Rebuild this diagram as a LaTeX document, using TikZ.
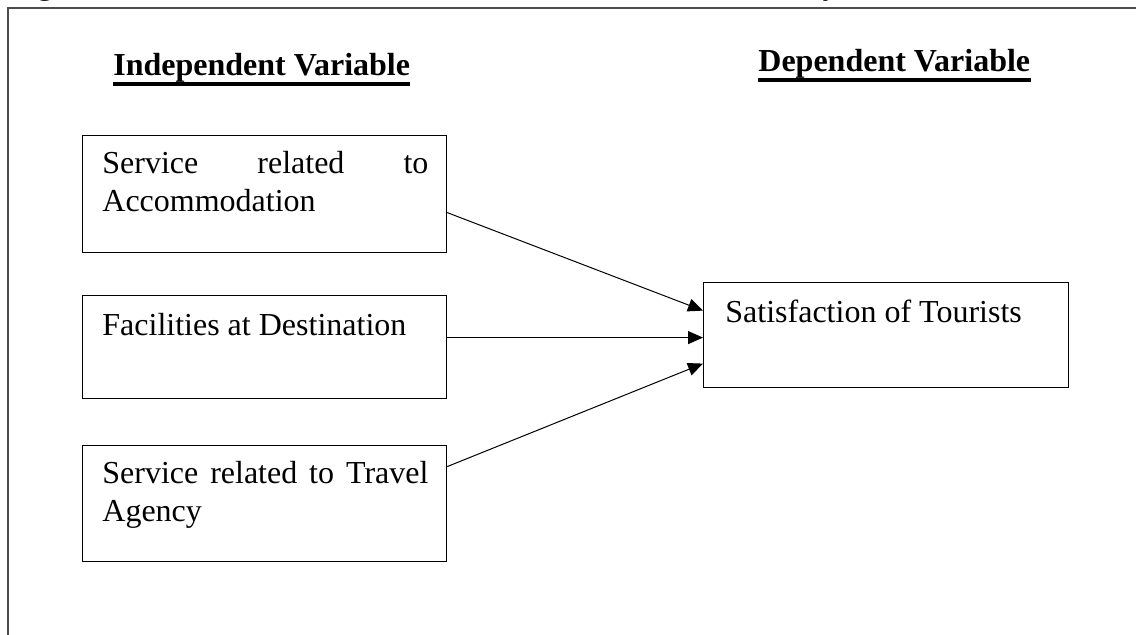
\documentclass[tikz,border=0pt]{standalone}
\usepackage{fontspec}
\setmainfont{Liberation Serif}
\usetikzlibrary{positioning,calc,arrows.meta}

\hyphenpenalty=10000
\exhyphenpenalty=10000
\tolerance=10000
\hbadness=10000

\tikzset{
  varbox/.style={rectangle, draw, line width=0.6pt, anchor=north west, inner sep=0pt},
  boxtext/.style={anchor=north west, inner sep=0pt, text width=163pt, align=justify,
    font=\fontsize{16}{19}\selectfont},
  heading/.style={anchor=base west, inner sep=0pt, font=\fontsize{16}{19}\selectfont\bfseries},
  link/.style={-{Triangle[length=7.5pt,width=6.5pt]}, line width=0.5pt}
}

\begin{document}
\begin{tikzpicture}[x=0.5pt, y=-0.5pt]
    \useasboundingbox (0,0) rectangle (1136,635);

    % line of the page above, cut off
    \node[anchor=base west, inner sep=0pt, font=\fontsize{16}{19}\selectfont] (caption) at (10,-5)
        {Figure 1 below shows the research framework used for the study};
    \draw[line width=1pt, black!70] (8,635) -- (8,8) -- (1136,8);

    % headings
    \node[heading] (indep) at (113,76) {Independent Variable};
    \node[heading] (dep) at (758,72) {Dependent Variable};
    \draw[line width=1.8pt] ($(indep.base west)+(0,8)$) -- ($(indep.base east)+(0,8)$);
    \draw[line width=1.8pt] ($(dep.base west)+(0,8)$) -- ($(dep.base east)+(0,8)$);

    % boxes
    \node[varbox, minimum width=182pt, minimum height=58.5pt] (accom) at (82,135) {};
    \node[varbox, minimum width=182pt, minimum height=51.5pt] (facil) at (82,295) {};
    \node[varbox, minimum width=182pt, minimum height=58pt] (travel) at (82,445) {};
    \node[varbox, minimum width=182.5pt, minimum height=52.5pt] (satis) at (703,282) {};

    \node[boxtext] (accomtext) at ($(accom.north west)+(20,16)$) {Service related to Accommodation};
    \node[boxtext] (faciltext) at ($(facil.north west)+(20,18)$) {Facilities at Destination};
    \node[boxtext] (traveltext) at ($(travel.north west)+(20,16)$) {Service related to Travel Agency};
    \node[boxtext] (satistext) at ($(satis.north west)+(22,18)$) {Satisfaction of Tourists};

    % links
    \draw[link] ($(accom.east)+(0,18.5)$) -- ($(satis.west)+(0,-24.5)$);
    \draw[link] ($(facil.east)+(0,-9.5)$) -- ($(satis.west)+(0,2.5)$);
    \draw[link] ($(travel.east)+(0,-37)$) -- ($(satis.west)+(0,28.5)$);
\end{tikzpicture}
\end{document}
